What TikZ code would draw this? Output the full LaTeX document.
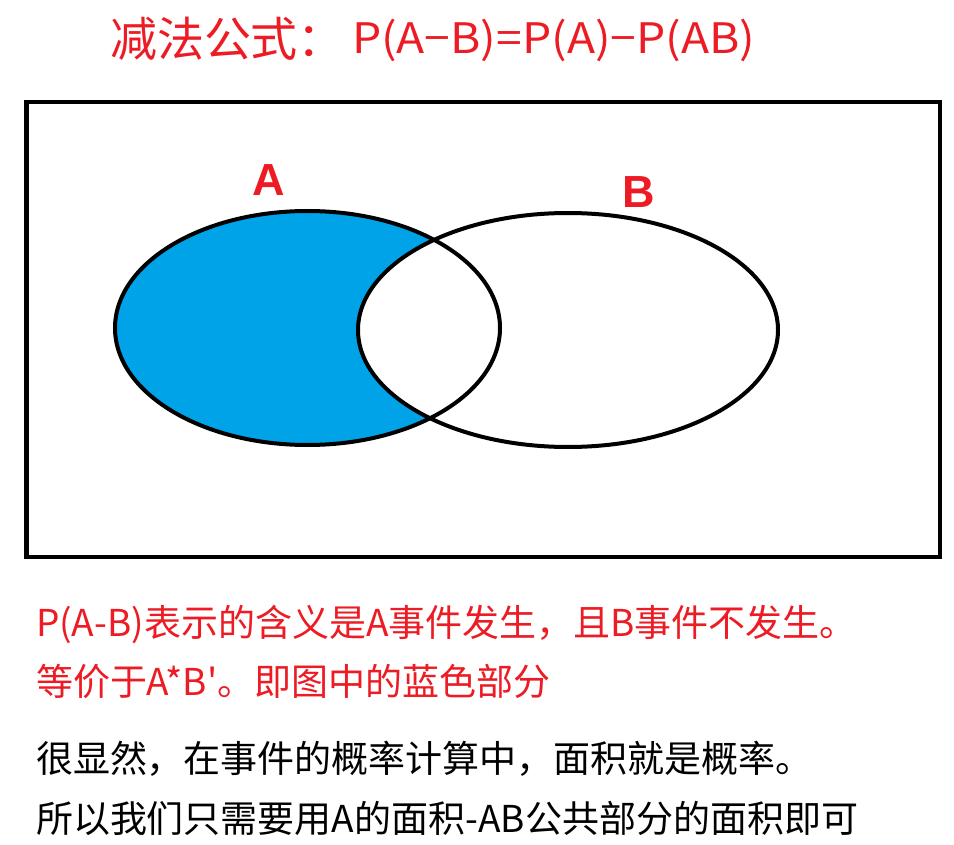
\documentclass[tikz,border=0pt]{standalone}
\usepackage{fontspec}
\newfontfamily\cjk{Noto Sans CJK SC}
\newfontfamily\lab{Liberation Sans}
\definecolor{pred}{HTML}{ED1C24}
\definecolor{pblue}{HTML}{00A2E8}
\tikzset{
  txt/.style={anchor=base west, inner sep=0pt, outer sep=0pt},
  body/.style={txt, font=\cjk\fontsize{37}{37}\selectfont},
  setlab/.style={anchor=center, inner sep=0pt, text=pred, font=\lab\bfseries\fontsize{45}{45}\selectfont},
  outline/.style={line width=4pt, draw=black}
}
\begin{document}
\begin{tikzpicture}[x=1pt,y=-1pt]
\useasboundingbox (0,0) rectangle (954,845);
\fill[white] (0,0) rectangle (954,845);
% title
\node[txt, text=pred, font=\cjk\fontsize{47}{47}\selectfont] (title) at (110,57) {减法公式：};
\node[txt, text=pred, font=\cjk\fontsize{42}{42}\selectfont] (formula) at (352,54) {\scalebox{1.1}[1]{P(A−B)=P(A)−P(AB)}};
% frame
\draw[line width=4.5pt] (26.5,102) rectangle (940,557);
% venn
\fill[pblue] (307.5,328) ellipse [x radius=192.5, y radius=117];
\begin{scope}
  \clip (568,330) ellipse [x radius=210, y radius=117];
  \fill[white] (307.5,328) ellipse [x radius=192.5, y radius=117];
\end{scope}
\draw[outline] (307.5,328) ellipse [x radius=192.5, y radius=117];
\draw[outline] (568,330) ellipse [x radius=210, y radius=117];
\node[setlab] (labA) at (269,180) {A};
\node[setlab] (labB) at (639,192) {B};
% text
\node[body, text=pred] (l1) at (36,636) {P(A-B)表示的含义是A事件发生，且B事件不发生。};
\node[body, text=pred] (l2) at (36,695) {等价于A*B'。即图中的蓝色部分};
\node[body, text=black] (l3) at (36,772) {很显然，在事件的概率计算中，面积就是概率。};
\node[body, text=black] (l4) at (36,832) {所以我们只需要用A的面积-AB公共部分的面积即可};
\end{tikzpicture}
\end{document}
